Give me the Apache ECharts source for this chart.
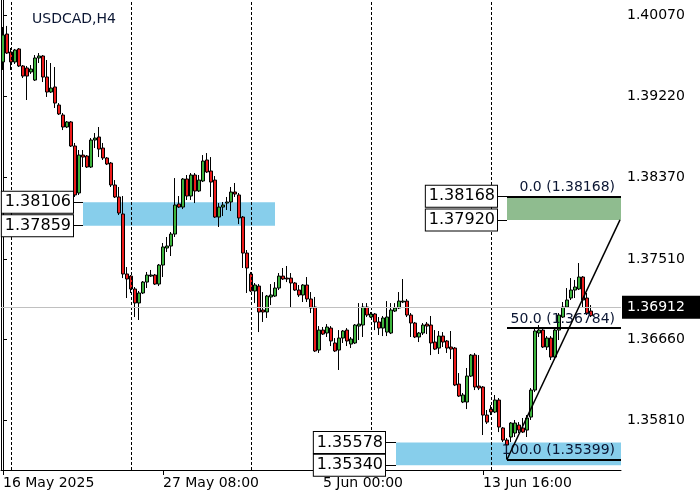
<!DOCTYPE html>
<html><head><meta charset="utf-8">
<script src="https://cdn.jsdelivr.net/npm/echarts@6/dist/echarts.min.js"></script>
<style>html,body{margin:0;padding:0;background:#fff}#c{width:700px;height:500px}</style>
</head><body><div id="c"></div>
<script>
const symbolName = 'USDCAD,H4';
const opens = [
1.39581,1.39875,1.39686,1.39581,1.39718,1.39539,1.39518,1.39476,1.39391,1.39623,
1.39644,1.39423,1.39265,1.39318,1.39128,1.39023,1.38897,1.38950,1.38697,1.38203,
1.38602,1.38592,1.38476,1.38760,1.38792,1.38676,1.38571,1.38518,1.38287,1.38161,
1.37982,1.37351,1.37329,1.37193,1.37046,1.37151,1.37266,1.37329,1.37340,1.37245,
1.37445,1.37624,1.37645,1.37771,1.38087,1.38055,1.38350,1.38171,1.38392,1.38224,
1.38329,1.38550,1.38434,1.38339,1.37950,1.38055,1.38097,1.38108,1.38213,1.38182,
1.37950,1.37571,1.37351,1.37172,1.37224,1.36972,1.36951,1.37109,1.37119,1.37203,
1.37329,1.37308,1.37308,1.37256,1.37182,1.37130,1.37235,1.37088,1.37003,1.36551,
1.36761,1.36730,1.36782,1.36625,1.36551,1.36677,1.36761,1.36614,1.36625,1.36803,
1.36814,1.37003,1.36898,1.36930,1.36846,1.36782,1.36740,1.36730,1.36961,1.36993,
1.37056,1.37066,1.36919,1.36835,1.36688,1.36730,1.36824,1.36814,1.36635,1.36572,
1.36698,1.36646,1.36583,1.36572,1.36193,1.36004,1.36004,1.36277,1.36498,1.36172,
1.36162,1.35867,1.35930,1.35899,1.36025,1.35731,1.35604,1.35636,1.35678,1.35762,
1.35731,1.35709,1.35846,1.36130,1.36730,1.36761,1.36583,1.36677,1.36477,1.36761,
1.36898,1.37003,1.37098,1.37182,1.37193,1.37319,1.37098,1.36961];
const highs = [
1.39949,1.39960,1.39728,1.39718,1.39728,1.39549,1.39539,1.39549,1.39654,1.39675,
1.39654,1.39602,1.39570,1.39528,1.39149,1.39044,1.38960,1.38960,1.38729,1.38655,
1.38655,1.38602,1.38781,1.38834,1.38897,1.38729,1.38581,1.38529,1.38339,1.38266,
1.38171,1.37424,1.37340,1.37214,1.37172,1.37277,1.37372,1.37393,1.37351,1.37456,
1.37677,1.37740,1.37792,1.38360,1.38171,1.38360,1.38392,1.38413,1.38413,1.38392,
1.38602,1.38623,1.38581,1.38381,1.38097,1.38108,1.38161,1.38266,1.38308,1.38203,
1.37961,1.37603,1.37372,1.37256,1.37245,1.37161,1.37130,1.37245,1.37266,1.37361,
1.37414,1.37435,1.37361,1.37266,1.37235,1.37245,1.37319,1.37161,1.37109,1.36803,
1.36793,1.36824,1.36803,1.36677,1.36761,1.36761,1.36782,1.36688,1.36824,1.37045,
1.37045,1.37045,1.36951,1.36940,1.36898,1.36909,1.37066,1.37045,1.37045,1.37161,
1.37298,1.37088,1.36940,1.36846,1.36740,1.36835,1.36846,1.36909,1.36761,1.36751,
1.36740,1.36656,1.36751,1.36583,1.36309,1.36099,1.36362,1.36509,1.36519,1.36498,
1.36172,1.35920,1.35972,1.36078,1.36046,1.35741,1.35625,1.35793,1.35815,1.35793,
1.35836,1.35867,1.36151,1.36782,1.36814,1.36782,1.36698,1.36698,1.36782,1.36940,
1.37056,1.37203,1.37308,1.37288,1.37466,1.37329,1.37151,1.37024];
const lows = [
1.39497,1.39665,1.39497,1.39560,1.39528,1.39412,1.39181,1.39455,1.39381,1.39570,
1.39370,1.39213,1.39255,1.39097,1.39023,1.38865,1.38886,1.38687,1.38161,1.38182,
1.38476,1.38466,1.38466,1.38676,1.38581,1.38550,1.38497,1.38266,1.38150,1.37971,
1.37308,1.37098,1.37151,1.36898,1.36867,1.37140,1.37203,1.37319,1.37235,1.37224,
1.37319,1.37582,1.37540,1.37740,1.38045,1.38034,1.38129,1.38129,1.38097,1.38213,
1.38318,1.38413,1.38161,1.37940,1.37845,1.37961,1.38024,1.38013,1.38161,1.37876,
1.37414,1.37151,1.37161,1.37045,1.36740,1.36846,1.36888,1.37024,1.37109,1.37182,
1.37288,1.37266,1.37003,1.37172,1.37109,1.37056,1.37056,1.36940,1.36530,1.36520,
1.36709,1.36688,1.36593,1.36530,1.36341,1.36625,1.36593,1.36572,1.36614,1.36656,
1.36688,1.36898,1.36888,1.36761,1.36709,1.36698,1.36698,1.36719,1.36951,1.36982,
1.37045,1.36898,1.36688,1.36677,1.36635,1.36709,1.36719,1.36498,1.36551,1.36509,
1.36583,1.36520,1.36456,1.36172,1.36057,1.35993,1.35930,1.36267,1.36130,1.36130,
1.35657,1.35773,1.35867,1.35888,1.35688,1.35583,1.35399,1.35583,1.35636,1.35678,
1.35678,1.35636,1.35815,1.36109,1.36688,1.36572,1.36551,1.36446,1.36446,1.36656,
1.36888,1.36993,1.37077,1.37098,1.37182,1.37003,1.36919,1.36898];
const closes = [
1.39865,1.39675,1.39581,1.39707,1.39539,1.39433,1.39433,1.39507,1.39623,1.39644,
1.39423,1.39265,1.39307,1.39149,1.39034,1.38897,1.38950,1.38697,1.38182,1.38602,
1.38581,1.38476,1.38760,1.38781,1.38665,1.38571,1.38508,1.38287,1.38161,1.37992,
1.37351,1.37298,1.37193,1.37046,1.37151,1.37266,1.37340,1.37340,1.37245,1.37445,
1.37635,1.37645,1.37771,1.38076,1.38055,1.38350,1.38171,1.38392,1.38224,1.38339,
1.38539,1.38424,1.38318,1.37950,1.38055,1.38076,1.38108,1.38213,1.38192,1.37940,
1.37571,1.37414,1.37172,1.37235,1.36951,1.36951,1.37119,1.37130,1.37203,1.37329,
1.37298,1.37298,1.37256,1.37182,1.37130,1.37235,1.37088,1.36993,1.36541,1.36761,
1.36719,1.36793,1.36646,1.36541,1.36677,1.36751,1.36646,1.36667,1.36814,1.36824,
1.37003,1.36919,1.36930,1.36846,1.36782,1.36888,1.36898,1.36972,1.36993,1.37066,
1.37066,1.36919,1.36835,1.36688,1.36730,1.36814,1.36803,1.36625,1.36561,1.36698,
1.36635,1.36572,1.36561,1.36183,1.36067,1.36078,1.36277,1.36498,1.36162,1.36151,
1.35867,1.35793,1.35899,1.36025,1.35741,1.35604,1.35552,1.35783,1.35783,1.35709,
1.35688,1.35836,1.36130,1.36751,1.36761,1.36583,1.36677,1.36477,1.36761,1.36919,
1.37003,1.37077,1.37182,1.37214,1.37319,1.37077,1.36940,1.36912];

const slotCount = 155;                       // bar slots shown, including the empty space at the right
const timeLabels = ['16 May 2025', '27 May 08:00', '5 Jun 00:00', '13 Jun 16:00'];
const timeLabelBars = [0, 40, 80, 120];
const weekStartBars = [2, 32, 62, 92, 122];
const priceTicks = [1.40070, 1.39220, 1.38370, 1.37510, 1.36660, 1.35810];
const priceMin = 1.35289, priceMax = 1.40233;
const lastPrice = 1.36912;

// rectangles: bar range and price range, with bar where the price tags sit
const zoneFrom = [20, 126, 98.25];
const zoneTo = [68, 154.5, 154.5];
const zoneTop = [1.38106, 1.38168, 1.35578];
const zoneBottom = [1.37859, 1.37920, 1.35340];
const zoneTagBar = [17.5, 123.5, 95.5];
const zoneColors = ['#87ceeb', '#8fbc8f', '#87ceeb'];

// fibonacci retracement
const fibLevels = [0.0, 50.0, 100.0];
const fibPrices = [1.38168, 1.36784, 1.35399];
const fibFrom = 126, fibTo = 154.5;

// trend line
const trendLine = [[126, 1.35399], [154.25, 1.37920]];

const FONT = 'DejaVu Sans';
const TXT = '#0b1633';

const cats = Array.from({length: slotCount}, (_, i) => String(i));
const candleData = opens.map((o, i) => [o, closes[i], lows[i], highs[i]]);

const tagLabel = (v) => ({
  show: true, position: 'start', distance: 0, formatter: v.toFixed(5),
  fontFamily: FONT, fontSize: 16, color: '#000', lineHeight: 19,
  backgroundColor: '#fff', borderColor: '#000', borderWidth: 1, padding: [1, 2, 1, 3]
});

const connectorLines = [];
zoneFrom.forEach((f, k) => {
  [zoneTop[k], zoneBottom[k]].forEach(v => {
    connectorLines.push([
      {coord: [zoneTagBar[k], v], lineStyle: {color: '#000', width: 1, type: 'solid'}, label: tagLabel(v)},
      {coord: [f, v]}
    ]);
  });
});

const fibLines = fibPrices.map((v, k) => [
  {coord: [fibFrom, v], lineStyle: {color: '#000', width: 2, type: 'solid'},
   label: {show: true, position: 'insideEndTop', distance: [6, 2],
           formatter: fibLevels[k].toFixed(1) + ' (' + v.toFixed(5) + ')',
           fontFamily: FONT, fontSize: 14, color: TXT}},
  {coord: [fibTo, v]}
]);

const chart = echarts.init(document.getElementById('c'), null, {renderer: 'canvas'});
chart.setOption({
  animation: false,
  title: {text: symbolName, left: 27, top: 7,
          textStyle: {fontFamily: FONT, fontSize: 14, fontWeight: 'normal', color: TXT}},
  grid: {left: 1, right: 79, top: 0, bottom: 30},
  xAxis: [
    {type: 'category', data: cats, boundaryGap: true,
     axisLine: {show: true, lineStyle: {color: '#000', width: 1}},
     axisTick: {show: true, alignWithLabel: true, length: 5,
                interval: (i) => timeLabelBars.includes(i), lineStyle: {color: '#000'}},
     axisLabel: {interval: (i) => timeLabelBars.includes(i),
                 formatter: (v, i) => { const k = timeLabelBars.indexOf(i); return k >= 0 ? timeLabels[k] : ''; },
                 align: 'left', margin: 6, fontFamily: FONT, fontSize: 14, color: '#000'},
     splitLine: {show: false}},
    {type: 'value', min: -0.5, max: slotCount - 0.5, show: false}
  ],
  yAxis: [
    {type: 'value', position: 'right', min: priceMin, max: priceMax,
     axisLine: {show: true, lineStyle: {color: '#000'}},
     axisTick: {show: true, customValues: priceTicks, length: 4, lineStyle: {color: '#000'}},
     axisLabel: {customValues: priceTicks, formatter: (v) => v.toFixed(5), margin: 6,
                 fontFamily: FONT, fontSize: 14, color: '#000'},
     splitLine: {show: false}},
    {type: 'value', position: 'left', min: priceMin, max: priceMax,
     axisLine: {show: true, lineStyle: {color: '#000'}},
     axisTick: {show: false}, axisLabel: {show: false}, splitLine: {show: false}}
  ],
  series: [
    {type: 'line', xAxisIndex: 1, yAxisIndex: 0, data: [], z: 1, silent: true,
     markArea: {silent: true,
       data: zoneFrom.map((f, k) => [
         {xAxis: f, yAxis: zoneTop[k], itemStyle: {color: zoneColors[k], opacity: 1}},
         {xAxis: zoneTo[k], yAxis: zoneBottom[k]}])},
     markLine: {silent: true, symbol: 'none', animation: false,
       data: [
         ...weekStartBars.map(b => ({xAxis: b, label: {show: false},
                                     lineStyle: {color: '#000', type: [3, 2], width: 1}})),
         {yAxis: lastPrice, lineStyle: {color: '#c0c0c0', type: 'solid', width: 1},
          label: {show: true, position: 'end', distance: 1, formatter: lastPrice.toFixed(5),
                  fontFamily: FONT, fontSize: 14, color: '#fff', lineHeight: 16,
                  backgroundColor: '#000', padding: [4, 16, 3, 5]}}
       ]}},
    {type: 'candlestick', xAxisIndex: 0, yAxisIndex: 0, data: candleData, z: 2,
     barWidth: 3, barMaxWidth: 3, barMinWidth: 3,
     itemStyle: {color: '#3cb43c', color0: '#ee1b1b', borderColor: '#000', borderColor0: '#000', borderWidth: 1}},
    {type: 'line', xAxisIndex: 1, yAxisIndex: 0, data: trendLine, z: 5, silent: true,
     symbol: 'none', lineStyle: {color: '#000', width: 1.5},
     markLine: {silent: true, symbol: 'none', animation: false,
       data: [...fibLines, ...connectorLines]}}
  ]
});
</script></body></html>
